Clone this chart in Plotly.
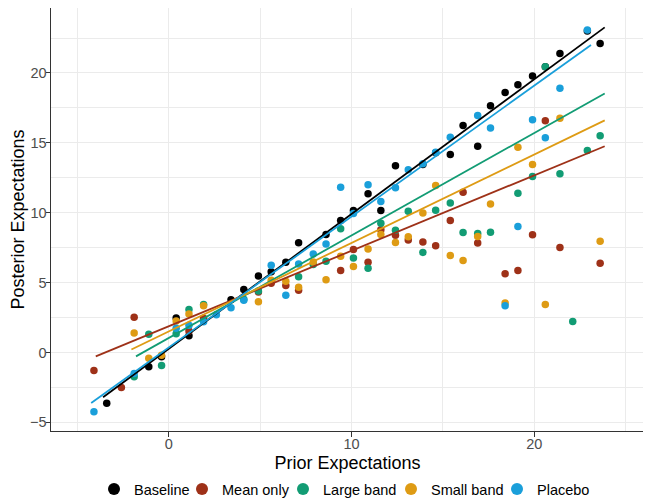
import plotly.graph_objects as go

# ---------------- data ----------------
series_names = ["Baseline", "Mean only", "Large band", "Small band", "Placebo"]
series_colors = ["#000000", "#9E3118", "#129C74", "#DE9B14", "#1A9FDA"]

baseline_x = [-3.4, -1.1, -0.4, 0.4, 1.1, 3.4, 4.1, 4.9, 5.6, 6.4, 7.1, 8.6, 9.4, 10.1, 10.9,
              11.6, 12.4, 13.9, 14.6, 15.4, 16.1, 16.9, 17.6, 18.4, 19.1, 19.9, 20.6, 21.4, 22.9, 23.6]
baseline_y = [-3.64, -1.03, -0.31, 2.47, 1.2, 3.77, 4.5, 5.47, 5.77, 6.45, 7.85, 8.45, 9.45, 10.16, 11.36,
              10.16, 13.36, 13.45, 14.3, 14.16, 16.24, 14.76, 17.66, 18.61, 19.16, 19.79, 20.45, 21.4, 23.0, 22.11]

meanonly_x = [-4.1, -2.6, -1.9, 1.1, 1.9, 4.9, 5.6, 6.4, 7.1, 9.4, 10.1, 10.9, 11.6, 12.4, 13.1,
              13.9, 14.6, 15.4, 16.1, 16.9, 18.4, 19.1, 19.9, 20.6, 21.4, 23.6]
meanonly_y = [-1.29, -2.5, 2.52, 1.54, 2.45, 4.33, 4.95, 4.8, 4.45, 5.86, 7.37, 6.45, 8.78, 8.38, 8.05,
              7.9, 7.64, 9.45, 11.47, 7.83, 5.64, 5.86, 8.42, 16.59, 7.52, 6.38]

largeband_x = [-1.9, -1.1, -0.4, 0.4, 1.1, 1.9, 4.1, 4.9, 7.1, 7.9, 8.6, 9.4, 10.1, 10.9, 11.6,
               12.4, 13.1, 13.9, 14.6, 15.4, 16.1, 16.9, 17.6, 19.1, 19.9, 20.6, 21.4, 22.1, 22.9, 23.6]
largeband_y = [-1.74, 1.31, -0.93, 1.34, 3.08, 3.44, 3.81, 4.4, 5.42, 6.3, 6.52, 8.86, 6.76, 6.02, 9.24,
               8.74, 10.1, 7.16, 10.18, 10.7, 8.59, 8.52, 8.61, 11.4, 12.59, 20.45, 12.78, 2.21, 14.45, 15.5]

smallband_x = [-1.9, -1.1, -0.4, 0.4, 1.1, 1.9, 4.9, 5.6, 6.4, 7.1, 7.9, 8.6, 9.4, 10.1, 10.9,
               11.6, 12.4, 13.1, 13.9, 14.6, 15.4, 16.1, 16.9, 17.6, 18.4, 19.1, 19.9, 20.6, 21.4, 23.6]
smallband_y = [1.4, -0.41, -0.2, 2.25, 2.75, 3.35, 3.63, 5.16, 5.1, 4.67, 6.47, 5.21, 6.88, 6.16, 7.4,
               8.44, 7.87, 8.28, 9.98, 11.95, 6.94, 6.58, 8.3, 10.62, 3.54, 14.69, 13.45, 3.43, 16.76, 7.95]

placebo_x = [-4.1, -1.9, 0.4, 1.1, 1.9, 2.6, 3.4, 4.1, 5.6, 6.4, 7.1, 7.9, 8.6, 9.4, 10.1,
             10.9, 11.6, 12.4, 13.1, 13.9, 14.6, 15.4, 16.9, 17.6, 18.4, 19.1, 19.9, 20.6, 21.4, 22.9]
placebo_y = [-4.24, -1.5, 1.73, 1.95, 2.2, 2.7, 3.2, 3.74, 6.24, 4.1, 6.33, 7.05, 7.77, 11.83, 9.95,
             12.0, 10.8, 11.79, 13.07, 13.5, 14.33, 15.4, 16.95, 16.07, 3.35, 9.02, 16.66, 15.36, 18.9, 23.07]

# linear-fit lines (slope, intercept, x extent)
fit_slope = [0.964, 0.540, 0.7336, 0.633, 0.937]
fit_intercept = [0.27, 1.88, 1.04, 1.51, 0.36]
fit_xmin = [-3.6, -4.0, -1.8, -2.05, -4.25]
fit_xmax = [23.85, 23.85, 23.85, 23.85, 23.1]

x_ticks = [0, 10, 20]
y_ticks = [-5, 0, 5, 10, 15, 20]

# ---------------- figure ----------------
xs = [baseline_x, meanonly_x, largeband_x, smallband_x, placebo_x]
ys = [baseline_y, meanonly_y, largeband_y, smallband_y, placebo_y]

FIG_W, FIG_H = 643, 490          # page body has an 8px margin
FONT = "Liberation Sans, Arial, sans-serif"
legend_ids = ["legend", "legend2", "legend3", "legend4", "legend5"]
legend_left_px = [86, 174, 275, 383, 489]   # left edge of each legend entry (figure pixels)

fig = go.Figure()
for name, col, x, y, lid in zip(series_names, series_colors, xs, ys, legend_ids):
    fig.add_trace(go.Scatter(x=x, y=y, mode="markers", name=name,
                             marker=dict(color=col, size=7.5, line=dict(width=0)),
                             legendgroup=name, showlegend=True, legend=lid))
for name, col, m, b, x0, x1, lid in zip(series_names, series_colors, fit_slope, fit_intercept,
                                        fit_xmin, fit_xmax, legend_ids):
    fig.add_trace(go.Scatter(x=[x0, x1], y=[m * x0 + b, m * x1 + b], mode="lines",
                             line=dict(color=col, width=1.8), legendgroup=name, showlegend=False,
                             hoverinfo="skip", legend=lid))

axis_common = dict(
    showline=True, mirror=True, linecolor="#333333", linewidth=1,
    showgrid=True, gridcolor="#EBEBEB", gridwidth=1.1,
    zeroline=False, ticks="outside", ticklen=4.5, tickwidth=1, tickcolor="#333333",
    tickfont=dict(family=FONT, size=14.5, color="#4D4D4D"),
    automargin=False,
)
fig.update_xaxes(**axis_common, range=[-6.45, 26.0], tickvals=x_ticks, ticklabelstandoff=-5,
                 minor=dict(dtick=5, tick0=0, showgrid=True, gridcolor="#EBEBEB", gridwidth=0.6, ticks=""),
                 title=dict(text="Prior Expectations", font=dict(family=FONT, size=18, color="#000000")))
fig.update_yaxes(**axis_common, range=[-5.62, 24.65], tickvals=y_ticks, ticklabelstandoff=-4,
                 minor=dict(dtick=2.5, tick0=0, showgrid=True, gridcolor="#EBEBEB", gridwidth=0.6, ticks=""),
                 title=dict(text="Posterior Expectations", font=dict(family=FONT, size=18, color="#000000")))

legend_style = dict(orientation="h", xref="container", yref="container", y=0.0184, yanchor="middle",
                    xanchor="left", font=dict(family=FONT, size=14.5, color="#000000"),
                    itemsizing="constant", bgcolor="rgba(0,0,0,0)", borderwidth=0)
layout_legends = {lid: dict(legend_style, x=px / FIG_W) for lid, px in zip(legend_ids, legend_left_px)}

fig.update_layout(
    width=FIG_W, height=FIG_H,
    margin=dict(l=43, r=7, t=0, b=67, autoexpand=False),
    paper_bgcolor="white", plot_bgcolor="white",
    font=dict(family=FONT, size=14.5, color="#000000"),
    showlegend=True,
    **layout_legends,
)

fig.write_html("out.html")
